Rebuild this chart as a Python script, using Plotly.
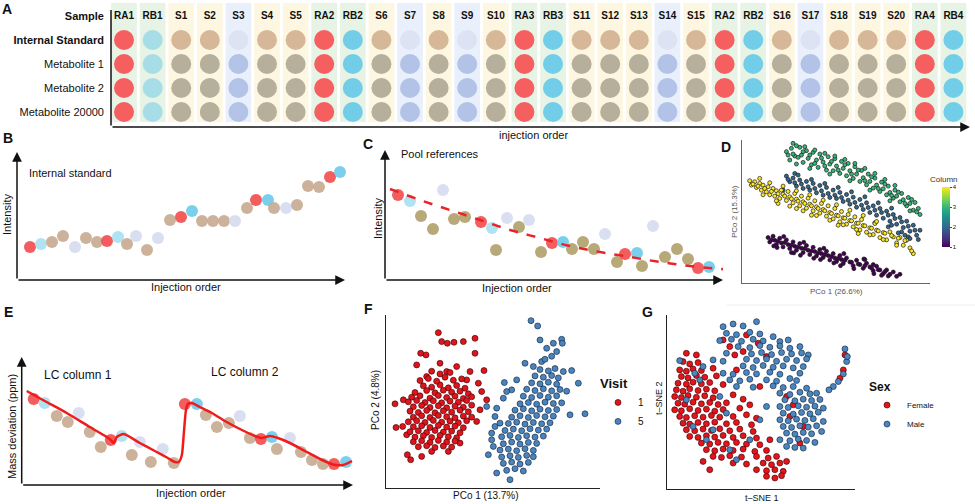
import plotly.graph_objects as go

W, H = 975, 504

# ---------------- panel A : sample layout ----------------
samples = ["RA1", "RB1", "S1", "S2", "S3", "S4", "S5", "RA2", "RB2", "S6", "S7", "S8", "S9", "S10",
           "RA3", "RB3", "S11", "S12", "S13", "S14", "S15", "RA2", "RB2", "S16", "S17", "S18", "S19",
           "S20", "RA4", "RB4"]
sample_type = ["RA", "RBl", "S", "S", "Sb", "S", "S", "RA", "RB", "S", "Sb", "S", "Sb", "S",
               "RA", "RB", "S", "S", "S", "Sb", "S", "RA", "RB", "S", "Sb", "S", "S",
               "S", "RA", "RB"]
row_names = ["Internal Standard", "Metabolite 1", "Metabolite 2", "Metabolite 20000"]

# ---------------- panels B, C, E : injection order ----------------
run_type = ["RA", "RBl", "S", "S", "Sb", "S", "S", "RA", "RBl", "S", "Sb", "S", "Sb", "S", "RA",
            "RB", "S", "S", "S", "Sb", "S", "RA", "RB", "S", "Sb", "S", "S", "S", "RA", "RB"]

b_order = [1.3, 2.4, 3.5, 4.6, 5.8, 6.9, 8.0, 9.0, 10.1, 11.0, 11.9, 13.0, 14.1, 15.3, 16.4,
           17.5, 18.5, 19.6, 20.7, 21.8, 23.0, 23.9, 25.1, 25.7, 26.9, 28.0, 29.1, 30.2, 31.3, 32.3]
b_intensity = [33, 36, 38, 44, 33, 42, 38, 39, 43, 36, 44, 30, 42, 60, 63,
               69, 59, 59, 59, 59, 72, 80, 80, 72, 72, 75, 94, 93, 103, 108]

c_order = [1.3, 2.5, 3.6, 4.8, 5.8, 6.9, 8.0, 9.6, 10.7, 11.1, 12.2, 13.4, 14.4, 15.6, 16.7,
           17.8, 18.7, 19.8, 20.9, 22.0, 23.2, 24.0, 25.2, 25.7, 26.8, 28.0, 29.2, 30.3, 31.3, 32.4]
c_intensity = [85, 79, 64, 51, 90, 61, 63, 58, 52, 30, 62, 53, 60, 28, 37,
               38, 31, 38, 31, 46, 18, 26, 27, 14, 54, 23, 31, 21, 12, 13]
c_trend_x = [0.5, 3.5, 6.5, 9.5, 12.5, 15.5, 18.5, 21.5, 24.5, 27.5, 30.5, 33.8]
c_trend_y = [91, 80, 70, 60, 50, 42, 34, 28, 23, 18, 14, 10.8]

e_order = [1.2, 2.3, 3.5, 4.6, 5.7, 6.8, 7.9, 8.9, 10.0, 11.0, 11.8, 12.9, 14.1, 15.2, 16.3,
           17.5, 18.4, 19.5, 20.7, 21.8, 22.8, 23.9, 25.0, 25.5, 26.8, 27.9, 29.0, 30.1, 31.2, 32.4]
e_deviation = [86, 82, 69, 63, 72, 53, 38, 45, 49, 30, 43, 23, 36, 22, 81,
               81, 70, 58, 62, 69, 47, 46, 48, 36, 47, 33, 25, 21, 21, 23]
e_fit_x = [0.5, 2.3, 4.5, 6.8, 8.5, 8.9, 9.2, 9.5, 10.2, 11.8, 13.3, 14.6, 15.3, 15.7, 16.0, 16.2,
           16.4, 16.6, 17.0, 17.8, 19.0, 20.3, 21.8, 23.3, 24.0, 24.8, 25.6, 26.8, 28.3, 29.8,
           31.1, 32.1, 33.0]
e_fit_y = [94, 84, 72, 58, 48, 45, 42, 48, 51, 42, 34, 27, 23, 23, 30, 52,
           74, 81, 82, 78, 72, 64, 56, 49, 47, 49, 47, 42, 34, 26,
           20.5, 20, 24]

# ---------------- panel D : PCoA coloured by column ----------------
d_col1 = [(-20.5, -7.2), (-20, -8.5), (-19, -6.8), (-18.5, -8), (-18, -9.3), (-17, -7.4), (-16.5, -8.8),
          (-16, -10), (-15, -7.9), (-14.5, -9.3), (-14, -10.5), (-13, -8.5), (-12.5, -9.8), (-12, -11),
          (-11, -9), (-10.5, -10.4), (-10, -11.7), (-9, -9.6), (-8.5, -11), (-8, -12.3), (-7, -10.1),
          (-6.5, -11.4), (-6, -12.7), (-5, -10.8), (-4.5, -12), (-4, -13.2), (-3, -11.3), (-2.5, -12.6),
          (-2, -13.9), (-1, -12), (-0.5, -13.3), (0, -14.4), (1, -12.6), (1.5, -13.8), (2, -15),
          (3, -13.3), (4, -14.5), (5, -15.6), (6, -14), (7, -15.3), (8, -16.4), (9, -14.9), (10, -16),
          (11, -17.1), (12, -15.8), (13, -16.9), (14, -18), (15, -16.9), (16, -18.2), (17, -17.5),
          (18, -18.8), (19, -18.2), (13.5, -18.5), (11, -15.3), (8.5, -13.8), (-13.5, -11.7),
          (-19.5, -7.9), (-17.5, -8.3), (-15.5, -8.7), (-13.5, -9.5), (-11.5, -10), (-9.5, -10.5),
          (-7.5, -11.2), (-5.5, -11.8), (-3.5, -12.3), (-1.5, -12.9), (0.5, -13.5), (2.5, -14), (4.5, -14.6),
          (6.5, -15.1), (8.5, -15.6), (10.5, -16.3), (12.5, -16.8), (14.5, -17.4), (-18.8, -9.7),
          (-15.8, -6.9), (-12.8, -11.8), (-9.8, -8.6), (-6.8, -13.4), (-3.8, -10.4), (-0.8, -14.8),
          (2.2, -12), (5.2, -16.5), (8.2, -13.6), (11.2, -18), (15.5, -18.7), (-17.8, -10.2),
          (-10.8, -12.5), (-4.8, -13.8), (1.2, -15.6)]
d_col2 = [(-15, 11.2), (-14, 9.5), (-13, 10.6), (-12, 8.2), (-11, 10), (-10, 7.5), (-9, 9.6), (-8, 7),
          (-7, 9), (-6, 6.2), (-5, 8.4), (-4, 5.5), (-3, 7.8), (-2, 4.8), (-1, 7), (0, 4.5), (1, 6.3),
          (2, 3.6), (3, 5.7), (4, 2.8), (5, 4.9), (6, 1.9), (7, 4.2), (8, 1.2), (9, 3.2), (10, 0.3),
          (11, 2.3), (12, -0.5), (13, 1.5), (14, -1.4), (15, 0.7), (16, -2.3), (17, -0.3), (18, -3.2),
          (19, -1.2), (20, -4.2), (21, -2.3), (22, -5.3), (23, -3.5), (24, -6.5), (25, -5),
          (19.5, -5.5), (21.5, -7), (15.5, -4), (11.5, -2.8), (-12.5, 12), (-16, 7),
          (-14.5, 10.2), (-12.5, 9.2), (-10.5, 8.8), (-8.5, 8), (-6.5, 7.5), (-4.5, 6.8), (-2.5, 6),
          (-0.5, 5.5), (1.5, 4.8), (3.5, 4), (5.5, 3.3), (7.5, 2.5), (9.5, 1.8), (11.5, 1), (13.5, 0.3),
          (15.5, -0.5), (17.5, -1.5), (19.5, -2.5), (21.5, -3.8), (23.5, -5), (22, -7.5), (20.5, -6.5),
          (18.5, -5.8), (24.5, -7.8), (16.5, -3.5), (-11.5, 11.5), (-7.5, 10.2), (-3.5, 9), (0.5, 7.8),
          (4.5, 6.5), (8.5, 5), (12.5, 3.2), (16.5, 1.6)]
d_col3 = [(-15, 18.5), (-14, 16), (-13.5, 19.5), (-12.5, 17.2), (-12, 14.8), (-11, 19.8), (-10.5, 17.5),
          (-10, 15.3), (-9, 18.8), (-8.5, 16.5), (-7.5, 14.6), (-7, 18.3), (-6, 16), (-5.5, 13.8),
          (-5, 17.8), (-4, 15.4), (-3, 13), (-2.5, 17), (-2, 14.8), (-1, 12.8), (-0.5, 16.4), (0, 14.2),
          (1, 12), (1.5, 15.6), (2, 13.5), (3, 11.3), (3.5, 15), (4, 12.8), (5, 10.5), (5.5, 14),
          (6, 11.8), (7, 9.6), (7.5, 12.9), (8, 10.7), (9, 8.6), (9.5, 11.8), (10, 9.6), (11, 7.6),
          (11.5, 10.6), (12, 8.5), (13, 6.6), (13.5, 9.4), (14, 7.4), (15, 5.6), (15.5, 8.2), (16, 6.3),
          (17, 4.6), (17.5, 7), (18, 5.2), (19, 3.5), (19.5, 6), (20, 4.1), (21, 2.3), (21.5, 4.8),
          (22, 3), (23, 1), (23.5, 3.3), (24.5, 1.5), (25, -0.3), (-13, 21),
          (-14.5, 17.5), (-13, 17.8), (-11.5, 16.8), (-10, 18.5), (-8, 17.5), (-6.5, 15), (-4.5, 16.6),
          (-3.5, 14.2), (-1.5, 15.6), (0.5, 13), (2.5, 14.6), (4.5, 11.8), (6.5, 13), (8.5, 9.8),
          (10.5, 11), (12.5, 7.5), (14.5, 8.8), (16.5, 5.4), (18.5, 6.4), (20.5, 3), (22.5, 4.2),
          (24, 0.5), (-12, 20.3), (-9.5, 20), (-6.5, 19), (-3.5, 18), (-0.5, 17.2), (2.5, 16.2),
          (5.5, 15), (8.5, 13.5), (11.5, 12), (14.5, 10.2), (17.5, 8.4), (-8, 13.5), (-2, 11.8),
          (4, 9.8), (10, 7), (16, 3.8), (22, 0.8)]
d_col4 = [(-26, 9.8), (-25.5, 8.5), (-24.5, 9.5), (-24, 7.8), (-23, 9), (-22.5, 7), (-22, 8.5), (-21, 6.5),
          (-20.5, 8), (-20, 5.6), (-19, 7.5), (-18.5, 5.2), (-18, 6.8), (-17, 4.5), (-16.5, 7), (-16, 5.8),
          (-15, 3.9), (-14.5, 6.6), (-14, 5), (-13, 3.2), (-12.5, 6), (-12, 4.3), (-11, 2.3), (-10.5, 5.2),
          (-10, 3.5), (-9, 1.6), (-8.5, 4.6), (-8, 2.8), (-7, 0.8), (-6.5, 3.8), (-6, 2), (-5, 0.1),
          (-4.5, 3), (-4, 1.2), (-3, -0.8), (-2.5, 2.3), (-2, 0.3), (-1, -1.6), (-0.5, 1.5), (0, -0.5),
          (1, -2.5), (1.5, 0.6), (2, -1.3), (3, -3.2), (3.5, -0.3), (4, -2.1), (5, -4), (5.5, -1),
          (6, -2.9), (7, -4.9), (7.5, -1.8), (8, -3.6), (9, -5.6), (10, -4.3), (11, -6.3), (11.5, -3),
          (12, -5), (13, -7.2), (14, -5.7), (15, -7.9), (16, -5.5), (17, -7), (18, -8.8), (19, -7.2),
          (20, -9.5), (21, -8), (22, -10.3), (23, -12), (22.5, -11.2), (-7.5, -0.5), (-12, 1.5),
          (6.5, -6), (0.5, -3.5), (-17.5, 3),
          (-25, 8.8), (-23.5, 8.2), (-21.5, 7.5), (-19.5, 6.6), (-17.5, 5.9), (-15.5, 5.2), (-13.5, 4.4),
          (-11.5, 3.7), (-9.5, 3), (-7.5, 2.3), (-5.5, 1.5), (-3.5, 0.8), (-1.5, 0), (0.5, -0.7),
          (2.5, -1.4), (4.5, -2.2), (6.5, -2.9), (8.5, -3.7), (10.5, -4.4), (12.5, -5.2), (14.5, -5.9),
          (16.5, -6.6), (18.5, -7.4), (20.5, -8.1), (-22, 5.6), (-18, 3.8), (-14, 2.2), (-10, 0.8),
          (-6, -0.6), (-2, -2), (2, -3.4), (6, -4.8), (10, -6.4), (14, -7.8), (18, -9.5), (-20, 9.2),
          (-16, 8.2), (-12, 6.8), (-8, 5.6), (-4, 4), (0, 2.6), (4, 1), (8, -0.6), (12, -2.4), (-23, 10.5)]

# ---------------- panel F : PCoA by visit ----------------
f_visit1 = [(-16.5, 20.2), (-15.5, 17.5), (-13.8, 17), (-11.8, 17.3), (-9, 17.5), (-5.5, 18.5), (-5.5, 14),
            (-21.8, 14), (-20.2, 13.5), (-23, 10.5), (-16, 11), (-2.8, 8.8), (-29.5, -1.2), (-29.2, -8.3),
            (-27.2, -8), (-25.8, -16.5), (-24.8, -18), (-21.5, -17), (-18.5, -15.5), (-13.5, -15.5),
            (-10, -13), (-5, -6.5), (-2, 0), (-3.5, 2.5), (-11, 10), (-7, 8.5), (-27, 0), (-26, -10.5),
            (-4, -3), (-4.5, 5), (-20, 7), (-14, 8.5), (-8, 6),
            (-21, 4.2), (-18.5, 3.8), (-16, 4.5), (-13.5, 3.6), (-11, 4.3), (-8.5, 3.5),
            (-23.5, 2.2), (-20, 2.8), (-17.5, 2.1), (-15, 2.9), (-12.5, 2.3), (-10, 2.6), (-7.5, 1.8),
            (-24.5, 0.8), (-22, 1.2), (-19, 0.5), (-16.5, 1.3), (-14, 0.7), (-11.5, 1.1), (-9, 0.4), (-6.5, 0.9),
            (-25.5, -0.6), (-23, -0.2), (-20.5, -0.8), (-18, -0.3), (-15.5, -0.9), (-13, -0.4), (-10.5, -0.7),
            (-8, -0.2), (-24, -2.1), (-21.5, -1.7), (-19, -2.3), (-16.5, -1.8), (-14, -2.4), (-11.5, -1.9),
            (-9, -2.2), (-6.5, -1.6), (-25, -3.4), (-22.5, -3.8), (-20, -3.2), (-17.5, -3.9), (-15, -3.3),
            (-12.5, -3.7), (-10, -3.1), (-7.5, -3.6), (-24, -5.2), (-21.5, -4.8), (-19, -5.3), (-16.5, -4.7),
            (-14, -5.1), (-11.5, -5.4), (-9, -4.9), (-6.5, -5.2), (-25.5, -6.6), (-23, -6.3), (-20.5, -6.8),
            (-18, -6.2), (-15.5, -6.7), (-13, -6.4), (-10.5, -6.9), (-8, -6.3), (-24, -8.1), (-21.5, -7.8),
            (-19, -8.3), (-16.5, -7.7), (-14, -8.2), (-11.5, -7.9), (-9, -8.4), (-25, -9.6), (-22.5, -9.3),
            (-20, -9.8), (-17.5, -9.2), (-15, -9.7), (-12.5, -9.4), (-10, -9.9), (-23.5, -11.2), (-21, -10.8),
            (-18.5, -11.3), (-16, -10.7), (-13.5, -11.1), (-11, -11.4), (-24, -12.6), (-21.5, -12.3),
            (-19, -12.8), (-16.5, -12.2), (-14, -12.7), (-11.5, -12.4), (-22.5, -14.1), (-20, -13.8),
            (-17.5, -14.3), (-15, -13.9), (-12.5, -14.2), (-22, 5.8), (-19.5, 6.4), (-17, 5.6), (-14.5, 6.8),
            (-12, 5.9), (-9.5, 6.3), (-16, 7.8), (-18.5, 8.6), (-13, 8.2)]
f_visit5 = [(11.3, 23.8), (13.3, 22.2), (14, 18), (18, 17), (20.5, 18.2), (20.7, 17), (9.5, 11), (12, 10),
            (14.5, 11.5), (21, 8.5), (23.5, 8.8), (25.5, 5), (27.5, -4.2), (23, -4.5), (3.3, 5.2), (-2, -2),
            (-1.5, -16.5), (-0.5, -12), (0.5, -8), (1, -22), (5, -24),
            (4, -21.2), (6.5, -20.7), (9, -21.4), (3, -19.1), (5.5, -18.7), (8, -19.3), (10.5, -18.8),
            (2.5, -17.2), (5, -16.8), (7.5, -17.3), (10, -16.7), (12, -17.1), (2, -15.1), (4.5, -14.8),
            (7, -15.3), (9.5, -14.7), (12, -15.2), (3, -13.2), (5.5, -12.7), (8, -13.3), (10.5, -12.8),
            (13, -13.1), (2.5, -11.1), (5, -10.7), (7.5, -11.3), (10, -10.8), (12.5, -11.2), (15, -10.9),
            (3.5, -9.2), (6, -8.8), (8.5, -9.3), (11, -8.7), (13.5, -9.1), (16, -8.8), (4.5, -7.1), (7, -6.7),
            (9.5, -7.3), (12, -6.8), (14.5, -7.2), (17, -6.9), (5.5, -5.2), (8, -4.8), (10.5, -5.3),
            (13, -4.7), (15.5, -5.1), (18, -4.9), (6.5, -3.1), (9, -2.7), (11.5, -3.3), (14, -2.8),
            (16.5, -3.2), (19, -2.9), (8, -1.2), (10.5, -0.8), (13, -1.3), (15.5, -0.7), (18, -1.1),
            (20.5, -0.9), (9, 1.1), (11.5, 0.7), (14, 1.3), (16.5, 0.8), (19, 1.2), (10, 3.2), (12.5, 2.8),
            (15, 3.3), (17.5, 2.7), (20, 3.1), (22, 2.6), (11.5, 5.1), (14, 4.8), (16.5, 5.3), (19, 4.7),
            (12.5, 7.2), (15, 6.8), (17.5, 7.3), (19.5, 6.6), (14, 9.1), (16.5, 8.7), (18.5, 9.4),
            (15.5, 12.2), (17.5, 13.1), (19, 14.5), (16, 15.5), (0.5, -5), (1, -2.5), (3, 0.5), (2, -7),
            (-0.5, -10), (0, -14), (5.5, 3), (7, 6), (4, 2.5)]

# ---------------- panel G : t-SNE by sex ----------------
g_female = [(-19, 14.5), (-17, 13.8), (-14.5, 14.2), (-20, 12), (-18, 11.6), (-16, 12.3), (-13.5, 11.8),
            (-10, 12.5), (-19.5, 10), (-17.5, 9.6), (-15, 10.3), (-12.5, 9.8), (-9, 10.2), (-20.5, 8),
            (-18, 7.7), (-16, 8.3), (-13.5, 7.8), (-11, 8.2), (-7, 7.6), (-21, 6), (-19, 5.6), (-17, 6.3),
            (-14.5, 5.8), (-12, 6.2), (-9.5, 5.7), (-21.5, 4), (-19.5, 3.7), (-17.5, 4.3), (-15, 3.8),
            (-12.5, 4.2), (-10, 3.6), (-4, 4.5), (-1, 3.2), (-20.5, 2), (-18.5, 1.7), (-16, 2.3),
            (-13.5, 1.8), (-11, 2.2), (-8.5, 1.6), (-6, 2.1), (1, 1.5), (-21.5, 0), (-19.5, -0.3), (-17, 0.3),
            (-14.5, -0.2), (-12, 0.2), (-9.5, -0.4), (-7, 0.1), (-2, 0.5), (-20, -2), (-18, -2.3),
            (-15.5, -1.8), (-13, -2.2), (-10.5, -1.7), (-8, -2.2), (-4, -2), (0, -1.5), (3, -2.5), (-19, -4),
            (-17, -4.3), (-14.5, -3.8), (-12, -4.2), (-9.5, -3.7), (-6, -4.2), (-3, -3.8), (1.5, -4.5),
            (-18, -6), (-15.5, -6.3), (-13, -5.8), (-10.5, -6.2), (-8, -5.7), (-5, -6.3), (-2, -5.8), (2, -6.5),
            (-17, -8), (-14.5, -8.3), (-12, -7.8), (-9.5, -8.2), (-7, -7.7), (-4, -8.3), (-1, -7.8), (3, -8.5),
            (7, -9), (-13.5, -10), (-11, -10.3), (-8.5, -9.8), (-6, -10.2), (-3, -9.8), (0, -10.3), (4, -10.5),
            (-12, -12), (-9.5, -12.3), (-7, -11.8), (-4, -12.2), (-1, -11.8), (2.5, -12.5), (6, -12.2),
            (-10, -14), (-7.5, -14.3), (-5, -13.8), (-1.5, -14.2), (3, -14), (6.5, -14.5), (9, -14),
            (-13, -15.5), (-4, -16), (0, -16.3), (5, -16), (7.5, -16.5), (10, -16), (12, -15.5), (-11, -18),
            (3, -18), (6, -18.3), (8.5, -18), (11, -18.5), (6, -20), (8.5, -20.5), (10.5, -19.8), (-7, 21),
            (-5, 19), (-3.5, 16.5), (-1, 17.5), (3.5, 20), (0, 22.5), (6, 16), (12, 4), (13, -2), (14, 1.5),
            (17, -5), (16, -10), (4, 7), (-3, 12), (-15, 16.5), (-18, 17), (29.5, 16.5), (29, 12), (28, 9.5)]
g_male = [(-7, 25), (-4, 25.8), (-1, 25.2), (3, 26.5), (-6, 23), (-3, 22.6), (1, 23.3), (4, 22.8), (8, 22),
          (-8, 20.8), (-4.5, 21.2), (-1.5, 20.6), (2, 21.2), (5, 20.7), (10, 20.5), (12.5, 21), (-2.5, 19),
          (1, 18.7), (4, 19.3), (7, 18.8), (10, 19.2), (13, 18.5), (16, 19), (-6, 17), (1.5, 16.8),
          (4.5, 17.2), (7.5, 16.6), (10.5, 17.2), (13.5, 16.8), (16.5, 17.1), (18.5, 16.5), (-10, 15),
          (-7, 14.6), (0, 15.2), (3, 14.8), (6, 15.3), (9, 14.6), (12, 15.2), (15, 14.8), (18, 15.3),
          (-13, 13), (-1, 13.2), (2, 12.7), (5, 13.3), (8, 12.8), (11, 13.2), (14, 12.6), (17, 13), (-7, 11),
          (-4, 10.7), (0, 11.2), (3, 10.8), (7, 11.3), (10, 10.7), (16, 11), (-5, 9), (-2, 8.7), (1, 9.2),
          (6, 9), (9, 8.6), (13, 9.4), (15, 8.8), (-3, 7), (2, 6.8), (8, 7.2), (11, 6.7), (14, 7), (18, 6.5),
          (10, 5), (13, 4.6), (16, 5.3), (19, 4.8), (21, 5), (11.5, 3), (14.5, 2.7), (17, 3.2), (19.5, 2.8),
          (22, 3.1), (10, 1), (12.5, 0.7), (15.5, 1.2), (18, 0.8), (20.5, 1.1), (23, 0.5), (11, -1),
          (14, -1.3), (16.5, -0.8), (19, -1.2), (21.5, -0.7), (10, -3), (12.5, -3.3), (15, -2.8), (17.5, -3.2),
          (20, -2.7), (23, -3.5), (11, -5), (13.5, -5.3), (16, -4.8), (18.5, -5.2), (21, -4.8), (12, -7),
          (14.5, -7.3), (17, -6.8), (19.5, -7.2), (22.5, -6.5), (10, -9), (13, -9.3), (15.5, -8.8),
          (18, -9.2), (20.5, -9.8), (12, -11), (14.5, -11.3), (17, -11.5), (-18, 3), (-16, -5), (-12, -9),
          (-8, 4), (-6, -1), (-14, 9), (-20, 14.8), (-5, -12), (-3, -15), (1, -9), (4, -3), (6, 1), (-10, -6),
          (-15.5, 11), (29.5, 18.3), (30, 14.5), (29, 10.8), (27.5, 8.5), (26, 7), (24.7, 6), (30.2, 16)]

# colours
a_top_colors = {"RA": "#f55f5f", "RBl": "#a7dde7", "RB": "#72cde8", "S": "#d6b898", "Sb": "#dde3f3"}
a_met_colors = {"RA": "#f55f5f", "RBl": "#a7dde7", "RB": "#72cde8", "S": "#b6af9c", "Sb": "#b3c3e7"}
a_box_colors = {"RA": "#e7f3e4", "RBl": "#e7f3e4", "RB": "#e7f3e4", "S": "#fdf6e0", "Sb": "#e9f0fb"}
run_colors = {"RA": "#f24b4b", "RBl": "#a6e0ef", "RB": "#6ccbea", "S": "#c8aa90", "Sb": "#d5dcef"}
run_colors_c = dict(run_colors, S="#b0a06a")

FONT = "Liberation Sans, Arial, sans-serif"


def px2paper(x, y):
    return x / W, 1 - y / H


fig = go.Figure()
layout = dict(width=W, height=H, margin=dict(l=0, r=0, t=0, b=0), paper_bgcolor="white",
              plot_bgcolor="rgba(0,0,0,0)", font=dict(family=FONT, color="#111"),
              showlegend=True)
hidden = dict(showgrid=False, zeroline=False, showticklabels=False, ticks="", showline=False,
              fixedrange=True)


def add_axes(n, x0, x1, y0, y1, xr, yr, line=False, linecolor="#222"):
    sx = "" if n == 1 else str(n)
    xa = dict(hidden, domain=[x0 / W, x1 / W], range=xr, anchor="y" + sx)
    ya = dict(hidden, domain=[1 - y1 / H, 1 - y0 / H], range=yr, anchor="x" + sx)
    if line:
        xa.update(showline=True, linecolor=linecolor, linewidth=1.2)
        ya.update(showline=True, linecolor=linecolor, linewidth=1.2)
    layout["xaxis" + sx] = xa
    layout["yaxis" + sx] = ya
    return "x" + sx, "y" + sx


annotations = []
shapes = []


def arrow(xa, ya, x, y, ax, ay, head=2):
    annotations.append(dict(x=x, y=y, ax=ax, ay=ay, xref=xa, yref=ya, axref=xa, ayref=ya, text="",
                            showarrow=True, arrowhead=head, arrowsize=1.3, arrowwidth=1.5,
                            arrowcolor="#111", standoff=0))


def label(text, x, y, size=11, bold=False, angle=0, color="#111", xanchor="center"):
    px, py = px2paper(x, y)
    annotations.append(dict(text=text, x=px, y=py, xref="paper", yref="paper", showarrow=False,
                            font=dict(size=size, color=color, family=FONT,
                                      weight="bold" if bold else "normal"),
                            textangle=angle, xanchor=xanchor, yanchor="middle"))


# ---- A
xa, ya = add_axes(1, 111, 970, 0, 127, [-0.455, 29.58], [3.625, -1.667])
layout["yaxis"].update(showticklabels=True, tickvals=[-1, 0, 1, 2, 3],
                       ticktext=["<b>Sample</b>", "<b>Internal Standard</b>"] + row_names[1:],
                       tickfont=dict(size=11, color="#111"), ticklabelstandoff=6)
for k, t in enumerate(sample_type):
    shapes.append(dict(type="rect", xref=xa, yref=ya, x0=k - 0.45, x1=k + 0.45, y0=-1.54, y1=3.42,
                       fillcolor=a_box_colors[t], line_width=0, layer="below"))
ax_x, ax_y, ax_c = [], [], []
for r in range(len(row_names)):
    for k, t in enumerate(sample_type):
        ax_x.append(k)
        ax_y.append(r)
        ax_c.append(a_top_colors[t] if r == 0 else a_met_colors[t])
fig.add_trace(go.Scatter(x=ax_x, y=ax_y, mode="markers", xaxis=xa, yaxis=ya, showlegend=False,
                         marker=dict(size=20, color=ax_c, line_width=0), cliponaxis=False,
                         hoverinfo="skip"))
fig.add_trace(go.Scatter(x=list(range(len(samples))), y=[-1] * len(samples), mode="text", text=samples,
                         textfont=dict(size=10, color="#111", weight="bold"), xaxis=xa, yaxis=ya,
                         showlegend=False, cliponaxis=False, hoverinfo="skip"))
arrow(xa, ya, 29.58, 3.625, -0.455, 3.625)
arrow(xa, ya, -0.455, -1.25, -0.455, 3.625, head=0)
label("injection order", 533, 135, size=11)
label("A", 7, 9, size=14, bold=True)

# ---- B
xb, yb = add_axes(2, 17, 345, 152, 280, [0, 32.8], [0, 128])
fig.add_trace(go.Scatter(x=b_order, y=b_intensity, mode="markers", xaxis=xb, yaxis=yb, showlegend=False,
                         marker=dict(size=12, color=[run_colors[t] for t in run_type], opacity=0.9,
                                     line_width=0), cliponaxis=False))
arrow(xb, yb, 0, 128, 0, 0)
arrow(xb, yb, 32.8, 0, 0, 0)
label("Internal standard", 27, 173, xanchor="left")
label("Intensity", 7, 215, angle=-90)
label("Injection order", 186, 287)
label("B", 8, 138, size=14, bold=True)

# ---- C
xc, yc = add_axes(3, 385, 723, 150, 280, [0, 33.8], [0, 130])
fig.add_trace(go.Scatter(x=c_order, y=c_intensity, mode="markers", xaxis=xc, yaxis=yc, showlegend=False,
                         marker=dict(size=12, color=[run_colors_c[t] for t in run_type], opacity=0.9,
                                     line_width=0), cliponaxis=False))
fig.add_trace(go.Scatter(x=c_trend_x, y=c_trend_y, mode="lines", xaxis=xc, yaxis=yc, showlegend=False,
                         line=dict(color="#e8242a", width=2.5, dash="dash", shape="spline")))
arrow(xc, yc, 0, 130, 0, 0)
arrow(xc, yc, 33.8, 0, 0, 0)
label("Pool references", 399, 154, xanchor="left")
label("Intensity", 378, 219, angle=-90)
label("Injection order", 517, 288)
label("C", 368, 144, size=14, bold=True)

# ---- D
xd, yd = add_axes(4, 742, 930, 140, 283, [-28.3, 28.0], [-20.8, 22.0], line=True, linecolor="#666")
d_pts = d_col1 + d_col2 + d_col3 + d_col4
d_val = [1] * len(d_col1) + [2] * len(d_col2) + [3] * len(d_col3) + [4] * len(d_col4)
fig.add_trace(go.Scatter(x=[p[0] for p in d_pts], y=[p[1] for p in d_pts], mode="markers", xaxis=xd,
                         yaxis=yd, showlegend=False,
                         marker=dict(size=4, color=d_val, colorscale="Viridis", cmin=1, cmax=4,
                                     line=dict(width=0.7, color="#1a1a1a"), showscale=True,
                                     colorbar=dict(x=942 / W, xanchor="left", y=1 - 247 / H,
                                                   yanchor="bottom", lenmode="pixels", len=60,
                                                   thickness=8, outlinewidth=0, tickvals=[1, 2, 3, 4],
                                                   ticks="outside", ticklen=2, tickfont=dict(size=6),
                                                   title=dict(text=""), xpad=0, ypad=0))))
label("Column", 944, 179, size=8, color="#333")
label("PCo 1 (26.6%)", 836, 291, size=8, color="#555")
label("PCo 2 (15.3%)", 734, 212, size=8, color="#555", angle=-90)
label("D", 726, 147, size=14, bold=True)

# ---- E
xe, ye = add_axes(5, 21.7, 353, 357, 485, [0, 33.1], [0, 128])
fig.add_trace(go.Scatter(x=e_order, y=e_deviation, mode="markers", xaxis=xe, yaxis=ye, showlegend=False,
                         marker=dict(size=12, color=[run_colors[t] for t in run_type], opacity=0.9,
                                     line_width=0), cliponaxis=False))
fig.add_trace(go.Scatter(x=e_fit_x, y=e_fit_y, mode="lines", xaxis=xe, yaxis=ye, showlegend=False,
                         line=dict(color="#f01c1c", width=2.5, shape="spline", smoothing=0.6)))
arrow(xe, ye, 0, 128, 0, 0)
arrow(xe, ye, 33.1, 0, 0, 0)
label("LC column 1", 78, 375, size=12)
label("LC column 2", 245, 372, size=12)
label("Mass deviation (ppm)", 12, 427, angle=-90)
label("Injection order", 191, 493)
label("E", 8, 312, size=14, bold=True)

# ---- F
xf, yf = add_axes(6, 386, 600, 315, 488, [-32.2, 32.0], [-26.5, 25.5], line=True)
fig.add_trace(go.Scatter(x=[p[0] for p in f_visit1], y=[p[1] for p in f_visit1], mode="markers",
                         name="1", xaxis=xf, yaxis=yf, legend="legend",
                         marker=dict(size=6, color="#e0141c", line=dict(width=0.6, color="#330000"))))
fig.add_trace(go.Scatter(x=[p[0] for p in f_visit5], y=[p[1] for p in f_visit5], mode="markers",
                         name="5", xaxis=xf, yaxis=yf, legend="legend",
                         marker=dict(size=6, color="#4a84bf", line=dict(width=0.6, color="#0c1d33"))))
label("PCo 1 (13.7%)", 486, 495, size=10)
label("PCo 2 (4.8%)", 375, 400, size=10, angle=-90)
label("F", 368, 309, size=14, bold=True)

# ---- G
xg, yg = add_axes(7, 667, 855, 315, 489, [-23.8, 32.5], [-23.8, 28.5], line=True)
fig.add_trace(go.Scatter(x=[p[0] for p in g_female], y=[p[1] for p in g_female], mode="markers",
                         name="Female", xaxis=xg, yaxis=yg, legend="legend2",
                         marker=dict(size=6, color="#e3141c", line=dict(width=0.6, color="#330000"))))
fig.add_trace(go.Scatter(x=[p[0] for p in g_male], y=[p[1] for p in g_male], mode="markers",
                         name="Male", xaxis=xg, yaxis=yg, legend="legend2",
                         marker=dict(size=6, color="#4a86c0", line=dict(width=0.6, color="#0c1d33"))))
label("t\u2013SNE 1", 762, 498, size=9)
label("t\u2013SNE 2", 659, 398, size=9, angle=-90)
label("G", 647, 312, size=14, bold=True)
shapes.append(dict(type="line", xref="paper", yref="paper", x0=727 / W, x1=1, y0=1 - 305 / H,
                   y1=1 - 305 / H, line=dict(color="#eeeeee", width=1)))

layout["legend"] = dict(x=598 / W, y=1 - 371 / H, xanchor="left", yanchor="top", bgcolor="rgba(0,0,0,0)",
                        font=dict(size=10), itemsizing="trace",
                        title=dict(text="Visit", font=dict(size=13, weight="bold")))
layout["legend2"] = dict(x=867 / W, y=1 - 375 / H, xanchor="left", yanchor="top", bgcolor="rgba(0,0,0,0)",
                         font=dict(size=8), itemsizing="trace",
                         title=dict(text="Sex", font=dict(size=12, weight="bold")))
layout["annotations"] = annotations
layout["shapes"] = shapes
fig.update_layout(**layout)

fig.write_html("out.html", config={"displayModeBar": False},
               post_script="document.body.style.margin='0';")
